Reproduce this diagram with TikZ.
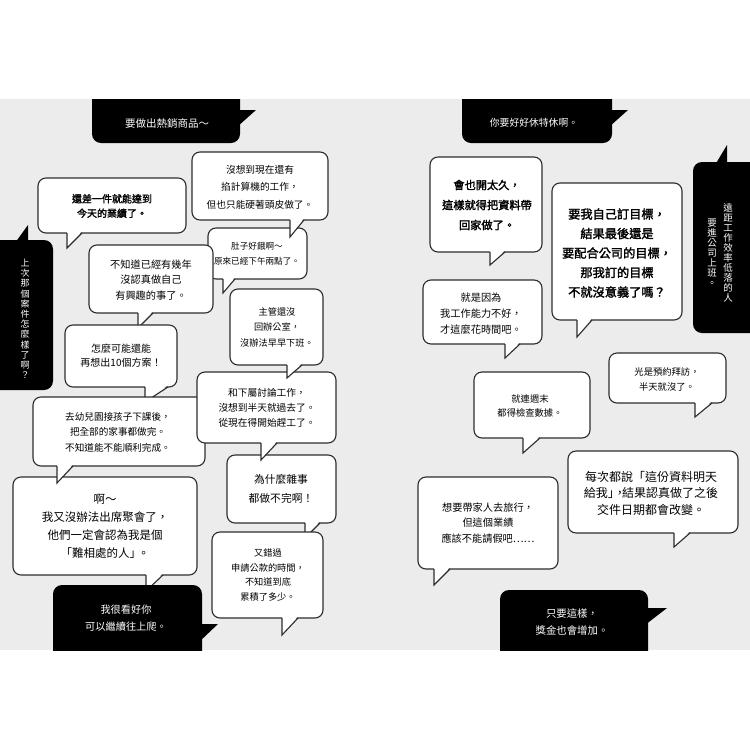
\documentclass[tikz,border=0pt]{standalone}
\usepackage{fontspec}
\newfontfamily\cjk{Noto Sans CJK TC}
\newfontfamily\cjkb[FakeBold=2]{Noto Sans CJK TC}
\definecolor{pagebg}{RGB}{236,236,236}
\definecolor{inkline}{RGB}{45,45,45}
\tikzset{
  wbub/.style={draw=inkline, fill=white, line width=1.1pt, rounded corners=8pt},
  bbub/.style={fill=black, rounded corners=9pt},
  tailw/.style={draw=inkline, line width=1.1pt, line join=miter},
  txt/.style={align=center, inner sep=0pt, text=black},
  wtxt/.style={align=center, inner sep=0pt, text=white},
}
\newcommand\fsz[2]{\fontsize{#1}{#2}\selectfont}
% white bubble with tail pointing down: x1 y1 x2 y2 tailx tailw tipy
\newcommand\wshape[7]{%
  \draw[wbub] (#1,#2) rectangle (#3,#4);
  \fill[white] (#5,#4-2) -- (#5,#7) -- (#5+#6,#4-2) -- cycle;
  \draw[tailw] (#5,#4) -- (#5,#7) -- (#5+#6,#4);
}
% black bubble with tail to the right: x1 y1 x2 y2 taily1 tipx taily2
\newcommand\bshapeR[7]{%
  \fill[bbub] (#1,#2) rectangle (#3,#4);
  \fill[black] (#3-3,#5) -- (#6,#5) -- (#3-3,#7) -- cycle;
}
% black bubble with tail upwards: x1 y1 x2 y2 basex tipx tipy
\newcommand\bshapeU[7]{%
  \fill[bbub] (#1,#2) rectangle (#3,#4);
  \fill[black] (#5,#2+3) -- (#6,#7) -- (#6,#2+3) -- cycle;
}
\begin{document}
\begin{tikzpicture}[x=1pt,y=-1pt]
\useasboundingbox (0,0) rectangle (750,750);
\fill[white] (0,0) rectangle (750,750);
\fill[pagebg] (0,99) rectangle (750,650);
\begin{scope}
\clip (0,99) rectangle (750,650);
% ---------- left page ----------
\bshapeR{92}{80}{240}{143}{110}{256}{127}
\node[wtxt, font=\cjk\fsz{10.5}{14}] (l1) at (167,123) {要做出熱銷商品～};

\wshape{38}{178}{186}{233}{67}{15}{248}
\node[txt, font=\cjkb\fsz{10}{14.5}] (l2) at (112,206) {還差一件就能達到\\今天的業績了。};

\wshape{208}{228}{307}{279}{223}{12}{293}
\node[txt, font=\cjk\fsz{8.6}{15}] (l4) at (257,254) {肚子好餓啊～\\原來已經下午兩點了。};

\wshape{192}{152}{328}{220}{290}{14}{237}
\node[txt, font=\cjk\fsz{9.7}{17.5}] (l3) at (260,187) {沒想到現在還有\\掐計算機的工作，\\但也只能硬著頭皮做了。};

\wshape{89}{245}{213}{313}{138}{15}{328}
\node[txt, font=\cjk\fsz{10.2}{15.5}] (l5) at (151,280) {不知道已經有幾年\\沒認真做自己\\有興趣的事了。};

\wshape{65}{325}{177}{387}{145}{23}{402}
\node[txt, font=\cjk\fsz{10}{14}] (l6) at (121,356) {怎麼可能還能\\再想出10個方案！};

\wshape{13}{477}{197}{575}{146}{17}{591}
\node[txt, font=\cjk\fsz{11.5}{18}] (l8) at (105,526) {啊～\\我又沒辦法出席聚會了，\\他們一定會認為我是個\\「難相處的人」\kern-0.3em。};

\wshape{33}{397}{205}{466}{57}{16}{483}
\node[txt, font=\cjk\fsz{9.6}{15.5}] (l7) at (118,432) {去幼兒園接孩子下課後，\\把全部的家事都做完。\\不知道能不能順利完成。};

\bshapeR{53}{585}{202}{670}{624}{218}{642}
\node[wtxt, font=\cjk\fsz{10.2}{17}] (l9) at (126,618.5) {我很看好你\\可以繼續往上爬。};

\wshape{227}{455}{336}{523}{305}{15}{538}
\node[txt, font=\cjk\fsz{10.8}{18.5}] (l12) at (281,489) {為什麼雜事\\都做不完啊！};

\wshape{197}{372}{336}{443}{261}{16}{460}
\node[txt, font=\cjk\fsz{9.7}{15}] (l11) at (267,408) {和下屬討論工作，\\沒想到半天就過去了。\\從現在得開始趕工了。};

\wshape{230}{289}{323}{365}{287}{15}{378}
\node[txt, font=\cjk\fsz{9.2}{15.5}] (l10) at (277,327) {主管還沒\\回辦公室，\\沒辦法早早下班。};

\wshape{212}{532}{323}{618}{282}{16}{635}
\node[txt, font=\cjk\fsz{9.2}{14.5}] (l13) at (268,575) {又錯過\\申請公款的時間，\\不知道到底\\累積了多少。};

\bshapeU{-10}{240}{53}{390}{15}{28}{225}
\node[wtxt, font=\cjk\fsz{9}{10.2}] (l14) at (25,319) {上\\次\\那\\個\\案\\件\\怎\\麼\\樣\\了\\啊\\？};

% ---------- right page ----------
\bshapeR{462}{80}{612}{143}{110}{628}{127}
\node[wtxt, font=\cjk\fsz{9.8}{14}] (r1) at (534,123) {你要好好休特休啊。};

\wshape{430}{157}{542}{252}{490}{15}{265}
\node[txt, font=\cjkb\fsz{11.2}{20}] (r2) at (487,205) {會也開太久，\\這樣就得把資料帶\\回家做了。};

\wshape{552}{183}{682}{320}{577}{15}{337}
\node[txt, font=\cjkb\fsz{12.2}{19.5}] (r3) at (617,253) {要我自己訂目標，\\結果最後還是\\要配合公司的目標，\\那我訂的目標\\不就沒意義了嗎？};

\bshapeU{693}{162}{760}{333}{715}{727}{145}
\node[wtxt, font=\cjk\fsz{9.5}{10}] (r4a) at (728,253) {遠\\距\\工\\作\\效\\率\\低\\落\\的\\人};
\node[wtxt, font=\cjk\fsz{9.5}{10}] (r4b) at (712,253) {要\\進\\公\\司\\上\\班\\。};

\wshape{423}{280}{542}{344}{505}{15}{358}
\node[txt, font=\cjk\fsz{10.2}{16}] (r5) at (481,314) {就是因為\\我工作能力不好，\\才這麼花時間吧。};

\wshape{474}{372}{590}{438}{523}{17}{453}
\node[txt, font=\cjk\fsz{9.3}{14}] (r6) at (530,406) {就連週末\\都得檢查數據。};

\wshape{609}{353}{726}{403}{695}{17}{417}
\node[txt, font=\cjk\fsz{9.3}{15}] (r7) at (667,379.5) {光是預約拜訪，\\半天就沒了。};

\wshape{568}{451}{738}{533}{674}{16}{547}
\node[txt, font=\cjk\fsz{12}{16.5}] (r8) at (651,493) {每次都說「這份資料明天\\給我」\kern-0.5em，\kern-0.3em 結果認真做了之後\\交件日期都會改變。};

\wshape{418}{477}{558}{569}{434}{16}{585}
\node[txt, font=\cjk\fsz{10.2}{15.5}] (r9) at (488,523) {想要帶家人去旅行，\\但這個業績\\應該不能請假吧……};

\bshapeR{500}{590}{648}{670}{608}{667}{625}
\node[wtxt, font=\cjk\fsz{10.4}{17}] (r10) at (572,621.5) {只要這樣，\\獎金也會增加。};
\end{scope}
\end{tikzpicture}
\end{document}
